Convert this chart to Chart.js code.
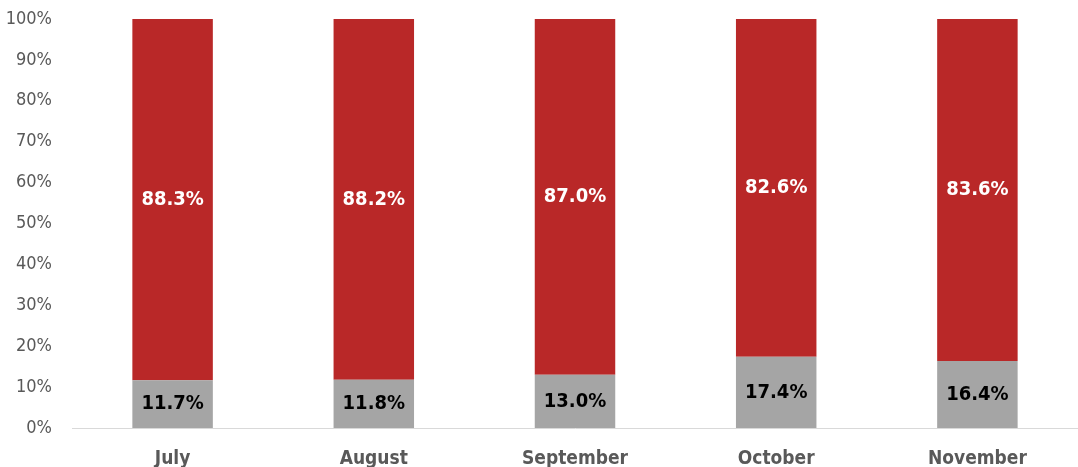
<!DOCTYPE html>
<html>
<head>
<meta charset="utf-8">
<script src="https://cdn.jsdelivr.net/npm/chart.js@4"></script>
<style>
  html, body { margin: 0; padding: 0; background: #fff; }
  #wrap { width: 1078px; height: 467px; }
</style>
</head>
<body>
<div id="wrap"><canvas id="shareChart"></canvas></div>
<script>
// Chart data
const months = ['July', 'August', 'September', 'October', 'November'];
const grayShare = [11.7, 11.8, 13.0, 17.4, 16.4];
const redShare = [88.3, 88.2, 87.0, 82.6, 83.6];
const yTicks = [0, 10, 20, 30, 40, 50, 60, 70, 80, 90, 100];

const fontFamily = '"Liberation Sans Narrow", "DejaVu Sans Condensed", "Roboto", sans-serif';

// Draws the value labels in the middle of each bar segment
const barLabels = {
    id: 'barLabels',
    afterDatasetsDraw(chart) {
        const ctx = chart.ctx;
        ctx.save();
        ctx.font = 'bold 20px ' + fontFamily;
        ctx.textAlign = 'center';
        ctx.textBaseline = 'middle';
        chart.data.datasets.forEach((ds, i) => {
            chart.getDatasetMeta(i).data.forEach((bar, j) => {
                const mid = (bar.y + bar.base) / 2;
                ctx.fillStyle = ds.labelColor;
                ctx.fillText(ds.data[j].toFixed(1) + '%', bar.x, mid);
            });
        });
        ctx.restore();
    }
};

var ctx = document.getElementById('shareChart').getContext('2d');
var shareChart = new Chart(ctx, {
    type: 'bar',
    data: {
        labels: months,
        datasets: [
            {
                label: 'Gray',
                data: grayShare,
                backgroundColor: '#a5a5a5',
                labelColor: '#000000',
                barPercentage: 0.4,
                categoryPercentage: 1.0
            },
            {
                label: 'Red',
                data: redShare,
                backgroundColor: '#b92828',
                labelColor: '#ffffff',
                barPercentage: 0.4,
                categoryPercentage: 1.0
            }
        ]
    },
    options: {
        responsive: true,
        maintainAspectRatio: false,
        animation: false,
        layout: { padding: { top: 19, right: 0, left: 0, bottom: 0 } },
        scales: {
            x: {
                stacked: true,
                grid: { display: false },
                border: { display: true, color: '#d9d9d9', width: 1 },
                ticks: {
                    color: '#595959',
                    padding: 12,
                    font: { family: fontFamily, size: 19, weight: 'bold' }
                },
                afterFit(axis) { axis.height = 39; }
            },
            y: {
                stacked: true,
                min: 0,
                max: 100,
                grid: { display: false },
                border: { display: false },
                afterBuildTicks(axis) { axis.ticks = yTicks.map(v => ({ value: v })); },
                ticks: {
                    color: '#595959',
                    padding: 12,
                    font: { family: fontFamily, size: 18 },
                    callback: v => v + '%'
                },
                afterFit(axis) {
                    axis.width = 72;
                    axis.paddingTop = 0;
                }
            }
        },
        plugins: {
            legend: { display: false },
            tooltip: { enabled: false }
        }
    },
    plugins: [barLabels]
});
</script>
</body>
</html>
